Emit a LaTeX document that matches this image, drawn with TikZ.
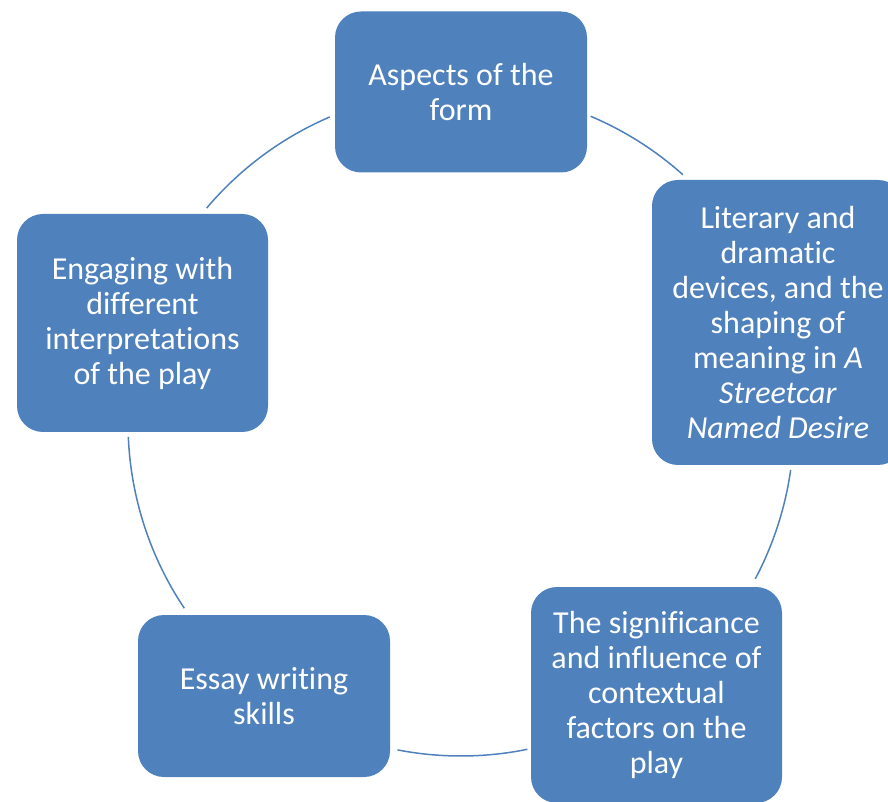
\documentclass[tikz,border=0pt]{standalone}
\usepackage{fontspec}
\setmainfont{Carlito}[Ligatures={NoCommon}]
\usetikzlibrary{positioning}
\definecolor{boxblue}{HTML}{4F81BD}
\tikzset{
  topic/.style={fill=boxblue,text=white,rounded corners=26pt,inner sep=0pt,
    align=center,font=\fontsize{32}{35}\selectfont},
  link/.style={draw=boxblue,line width=1.5pt}
}

\begin{document}
\begin{tikzpicture}[x=1pt,y=1pt]
\clip (0,0) rectangle (888,801);
%主题方块
\node[topic,minimum width=252,minimum height=161] (aspects) at (461,709) {Aspects of the\\form};
\node[topic,minimum width=252,minimum height=285] (devices) at (778,478.5) {Literary and\\dramatic\\devices, and the\\shaping of\\meaning in \emph{A}\\\emph{Streetcar}\\\emph{Named Desire}};
\node[topic,minimum width=251,minimum height=216] (context) at (656.5,106) {The significance\\and influence of\\contextual\\factors on the\\play};
\node[topic,minimum width=252,minimum height=162] (essay) at (264,105) {Essay writing\\skills};
\node[topic,minimum width=251,minimum height=218] (interp) at (142.5,478) {Engaging with\\different\\interpretations\\of the play};

%圆弧
\coordinate (C) at (461,378);
\coordinate (A1) at ([shift={(67.1:333)}]C);
\coordinate (A2) at ([shift={(-8.1:333)}]C);
\coordinate (A3) at ([shift={(-78.5:333)}]C);
\coordinate (A4) at ([shift={(-146.2:333)}]C);
\coordinate (A5) at ([shift={(139.8:333)}]C);

\draw[link] (A1) arc[start angle=67.1,end angle=48.2,radius=333];
\draw[link] (A2) arc[start angle=-8.1,end angle=-27.9,radius=333];
\draw[link] (A3) arc[start angle=-78.5,end angle=-101,radius=333];
\draw[link] (A4) arc[start angle=-146.2,end angle=-177.6,radius=333];
\draw[link] (A5) arc[start angle=139.8,end angle=113.2,radius=333];
\end{tikzpicture}
\end{document}
